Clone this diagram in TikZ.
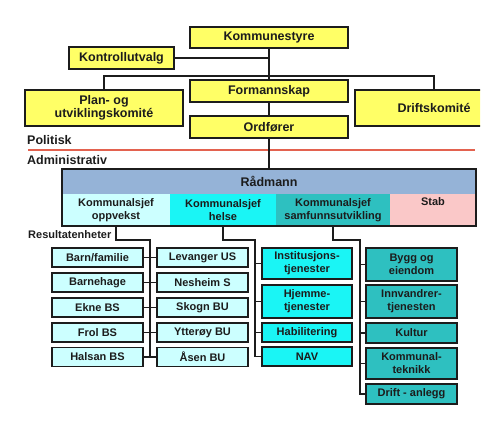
\documentclass[tikz,border=0pt]{standalone}
\usepackage{fontspec}
\setmainfont{Liberation Sans}
\usetikzlibrary{calc, positioning}

\definecolor{gul}{HTML}{FFFF66}
\definecolor{raadblaa}{HTML}{95B3D7}
\definecolor{lyscyan}{HTML}{CCFFFF}
\definecolor{helsecyan}{HTML}{1AF5F5}
\definecolor{samfunnteal}{HTML}{2EC0C0}
\definecolor{stabrosa}{HTML}{FAC8C8}
\definecolor{skillerod}{HTML}{E3624F}
\definecolor{kant}{HTML}{1C1C1C}

\tikzset{
	boks/.style = {draw = kant, line width = 1.6pt, align = center, inner sep = 0pt, text = kant, font = \bfseries\fontsize{11}{13}\selectfont},
	politisk/.style = {boks, fill = gul, font = \bfseries\fontsize{12.5}{13.5}\selectfont, minimum height = 22pt},
	enhet/.style = {boks, minimum width = 91pt, minimum height = 19pt},
	celle/.style = {inner sep = 0pt, align = center, text = kant, minimum height = 32pt, font = \bfseries\fontsize{11}{12.5}\selectfont},
	linje/.style = {draw = kant, line width = 1.5pt},
	niva/.style = {anchor = west, inner sep = 0pt, text = kant, font = \bfseries\fontsize{12.5}{14}\selectfont}
}

\begin{document}
\begin{tikzpicture}[x = 1pt, y = -1pt]
	\def\kolA{97.5};
	\def\kolB{202.5};
	\def\kolC{307};
	\def\kolD{411.5};
	\def\knekk{240};

	\useasboundingbox (0,0) rectangle (499,424);

	\begin{scope}
		\node [politisk, minimum width = 158pt, minimum height = 21pt] (kommunestyre) at (269,37.5) {Kommunestyre};
		\node [politisk, minimum width = 105pt] (kontrollutvalg) at (121.5,58) {Kontrollutvalg};
		\node [politisk, minimum width = 158pt] (formannskap) at (269,91) {Formannskap};
		\node [politisk, minimum width = 158pt] (ordforer) at (269,127) {Ordfører};
		\node [politisk, minimum width = 158pt, minimum height = 36pt] (plan) at (104,108) {Plan- og\\utviklingskomité};
	\end{scope}

	\begin{scope}
		\clip (0,0) rectangle (480,424);
		\node [politisk, minimum width = 158pt, minimum height = 36pt] (driftskomite) at (434,108) {Driftskomité};
	\end{scope}

	\begin{scope}
		\coordinate (gren) at (269,76);
		\draw [linje] (kommunestyre) -- (formannskap);
		\draw [linje] (kontrollutvalg.east) -- (kontrollutvalg.east -| kommunestyre.south);
		\draw [linje] (plan.north) |- (gren) -| (driftskomite.north);
		\draw [linje] (formannskap) -- (ordforer);
	\end{scope}

	\begin{scope}
		\node [niva] (politiskniva) at (27,140) {Politisk};
		\draw [skillerod, line width = 1.4pt] (28,150) -- (475,150);
		\node [niva] (administrativniva) at (27,160.5) {Administrativ};
	\end{scope}

	\begin{scope}
		\node [celle, fill = raadblaa, minimum width = 414pt, minimum height = 25pt, font = \bfseries\fontsize{12.5}{14}\selectfont] (radmann) at (269,181.5) {Rådmann};
		\node [celle, fill = lyscyan, minimum width = 108pt] (oppvekst) at (116,210) {Kommunalsjef\\oppvekst};
		\node [celle, fill = helsecyan, minimum width = 106pt] (helse) at (223,210) {Kommunalsjef\\helse};
		\node [celle, fill = samfunnteal, minimum width = 114pt] (samfunn) at (333,210) {Kommunalsjef\\samfunnsutvikling};
		\node [celle, fill = stabrosa, minimum width = 86pt] (stab) at (433,210) {Stab\\\strut};
		\draw [draw = kant, line width = 1.6pt] (radmann.north west) rectangle (stab.south east);
		\draw [linje] (ordforer) -- (radmann);
	\end{scope}

	\node [niva, font = \bfseries\fontsize{11}{12}\selectfont] (resultatenheter) at (28,235) {Resultatenheter};

	\begin{scope}
		\foreach \venstre/\vtekst/\hoyre/\htekst/\y in {barn/{Barn/familie}/levanger/{Levanger US}/257.5, barnehage/{Barnehage}/nesheim/{Nesheim S}/282.5, ekne/{Ekne BS}/skogn/{Skogn BU}/307.5, frol/{Frol BS}/ytteroy/{Ytterøy BU}/332.5, halsan/{Halsan BS}/asen/{Åsen BU}/357}
		{
			\node [enhet, fill = lyscyan] (\venstre) at (\kolA,\y) {\vtekst};
			\node [enhet, fill = lyscyan] (\hoyre) at (\kolB,\y) {\htekst};
			\draw [linje] (\venstre) -- (\hoyre);
		}
		\coordinate (knekkA) at (150,\knekk);
		\draw [linje] (oppvekst.south) |- (knekkA) -- (knekkA |- halsan.east);
	\end{scope}

	\begin{scope}
		\node [enhet, fill = helsecyan, minimum width = 90pt, minimum height = 31pt] (institusjon) at (\kolC,263.5) {Institusjons-\\tjenester};
		\node [enhet, fill = helsecyan, minimum width = 90pt, minimum height = 33pt] (hjemme) at (\kolC,301.5) {Hjemme-\\tjenester};
		\node [enhet, fill = helsecyan, minimum width = 90pt] (habilitering) at (\kolC,332.5) {Habilitering};
		\node [enhet, fill = helsecyan, minimum width = 90pt] (nav) at (\kolC,356.5) {NAV};
		\coordinate (knekkB) at (255,\knekk);
		\draw [linje] (helse.south) |- (knekkB) |- (nav.west);
		\foreach \enhet in {institusjon, hjemme, habilitering}
			\draw [linje] (knekkB |- \enhet.west) -- (\enhet.west);
	\end{scope}

	\begin{scope}
		\node [enhet, fill = samfunnteal, minimum height = 33pt] (bygg) at (\kolD,264.5) {Bygg og\\eiendom};
		\node [enhet, fill = samfunnteal, minimum height = 33pt] (innvandrer) at (\kolD,301.5) {Innvandrer-\\tjenesten};
		\node [enhet, fill = samfunnteal, minimum height = 20pt] (kultur) at (\kolD,333) {Kultur};
		\node [enhet, fill = samfunnteal, minimum height = 31pt] (kommunalteknikk) at (\kolD,363.5) {Kommunal-\\teknikk};
		\node [enhet, fill = samfunnteal, minimum height = 20pt] (driftanlegg) at (\kolD,394) {Drift - anlegg};
		\coordinate (knekkC) at (360,\knekk);
		\draw [linje] (samfunn.south) |- (knekkC) |- (driftanlegg.west);
		\foreach \enhet in {bygg, innvandrer, kultur, kommunalteknikk}
			\draw [linje] (knekkC |- \enhet.west) -- (\enhet.west);
	\end{scope}
\end{tikzpicture}
\end{document}
